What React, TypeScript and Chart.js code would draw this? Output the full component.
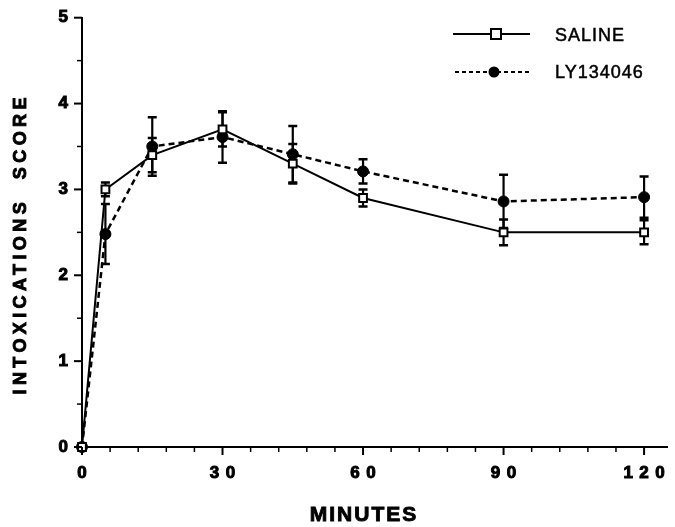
import { useEffect, useRef } from 'react';
import { Chart, registerables } from 'chart.js';

Chart.register(...registerables);

const minutes = [0, 5, 15, 30, 45, 60, 90, 120];
const salineMean = [0, 3.0, 3.4, 3.7, 3.3, 2.9, 2.5, 2.5];
const salineErr = [0, 0.08, 0.2, 0.2, 0.23, 0.1, 0.15, 0.14];
const lyMean = [0, 2.48, 3.5, 3.61, 3.41, 3.21, 2.86, 2.91];
const lyErr = [0, 0.35, 0.34, 0.3, 0.33, 0.14, 0.31, 0.24];
const xTickValues = [0, 30, 60, 90, 120];
const yTickValues = [0, 1, 2, 3, 4, 5];
const seriesNames = ['SALINE', 'LY134046'];
const xTitle = 'MINUTES';
const yTitle = 'INTOXICATIONS  SCORE';

const FONT = '"Liberation Sans", Arial, Helvetica, sans-serif';

const customPlugin = {
  id: 'custom',
  beforeDraw(chart: any) {
    chart.ctx.letterSpacing = '6.5px';
  },
  beforeDatasetsDraw(chart: any) {
    const ctx = chart.ctx;
    ctx.letterSpacing = '0px';
    const xs = chart.scales.x;
    const ys = chart.scales.y;
    ctx.save();
    ctx.strokeStyle = '#000';
    const groups: [number[], number[]][] = [
      [salineMean, salineErr],
      [lyMean, lyErr],
    ];
    groups.forEach(([m, e]) => {
      minutes.forEach((t, i) => {
        if (!e[i]) return;
        const px = xs.getPixelForValue(t);
        const top = ys.getPixelForValue(m[i] + e[i]);
        const bot = ys.getPixelForValue(m[i] - e[i]);
        ctx.lineWidth = 2.2;
        ctx.beginPath();
        ctx.moveTo(px, top);
        ctx.lineTo(px, bot);
        ctx.stroke();
        ctx.lineWidth = 2.5;
        ctx.beginPath();
        ctx.moveTo(px - 4.5, top);
        ctx.lineTo(px + 4.5, top);
        ctx.moveTo(px - 4.5, bot);
        ctx.lineTo(px + 4.5, bot);
        ctx.stroke();
      });
    });
    ctx.restore();
  },
  afterDraw(chart: any) {
    const ctx = chart.ctx;
    const xs = chart.scales.x;
    const ys = chart.scales.y;
    const area = chart.chartArea;
    ctx.save();
    ctx.letterSpacing = '0px';
    ctx.strokeStyle = '#000';
    ctx.fillStyle = '#000';
    // x ticks
    const y0 = area.bottom;
    for (let v = 0; v <= xs.max; v += 6) {
      const px = xs.getPixelForValue(v);
      const major = xTickValues.includes(v);
      ctx.lineWidth = major ? 2 : 1.5;
      ctx.beginPath();
      ctx.moveTo(px, y0);
      ctx.lineTo(px, y0 + (major ? 8 : 5));
      ctx.stroke();
    }
    // y ticks
    const x0 = area.left;
    for (let v = 0; v <= ys.max + 1e-9; v += 0.5) {
      const py = ys.getPixelForValue(v);
      const major = Math.abs(v - Math.round(v)) < 1e-9;
      ctx.lineWidth = major ? 2 : 1.5;
      ctx.beginPath();
      ctx.moveTo(x0, py);
      ctx.lineTo(x0 - (major ? 8 : 5), py);
      ctx.stroke();
    }
    // x title
    ctx.font = `bold 21px ${FONT}`;
    ctx.letterSpacing = '2px';
    ctx.textAlign = 'center';
    ctx.textBaseline = 'middle';
    ctx.lineWidth = 0.9;
    const cx = (xs.getPixelForValue(0) + xs.getPixelForValue(120)) / 2;
    ctx.strokeText(xTitle, cx + 1, 515);
    ctx.fillText(xTitle, cx + 1, 515);
    // y title
    ctx.save();
    ctx.font = `bold 18px ${FONT}`;
    ctx.letterSpacing = '4.4px';
    ctx.translate(21, 246);
    ctx.rotate(-Math.PI / 2);
    ctx.lineWidth = 0.9;
    ctx.strokeText(yTitle, 2.2, 0);
    ctx.fillText(yTitle, 2.2, 0);
    ctx.restore();
    // legend
    ctx.letterSpacing = '1px';
    ctx.font = `18px ${FONT}`;
    ctx.textAlign = 'left';
    ctx.textBaseline = 'middle';
    // saline
    ctx.lineWidth = 2;
    ctx.setLineDash([]);
    ctx.beginPath();
    ctx.moveTo(453, 34);
    ctx.lineTo(530, 34);
    ctx.stroke();
    ctx.fillStyle = '#fff';
    ctx.fillRect(491, 29, 10, 10);
    ctx.strokeRect(491, 29, 10, 10);
    ctx.fillStyle = '#000';
    ctx.lineWidth = 0.5;
    ctx.strokeText(seriesNames[0], 555, 36);
    ctx.fillText(seriesNames[0], 555, 36);
    // ly
    ctx.lineWidth = 2;
    ctx.setLineDash([4, 3]);
    ctx.beginPath();
    ctx.moveTo(455, 72);
    ctx.lineTo(530, 72);
    ctx.stroke();
    ctx.setLineDash([]);
    ctx.beginPath();
    ctx.arc(494, 72, 5.5, 0, Math.PI * 2);
    ctx.fill();
    ctx.lineWidth = 0.5;
    ctx.strokeText(seriesNames[1], 555, 73);
    ctx.fillText(seriesNames[1], 555, 73);
    ctx.restore();
  },
};

export default function App() {
  const ref = useRef<HTMLCanvasElement | null>(null);
  useEffect(() => {
    if (!ref.current) return;
    const chart = new Chart(ref.current, {
      type: 'line',
      data: {
        datasets: [
          {
            label: seriesNames[0],
            data: minutes.map((t, i) => ({ x: t, y: salineMean[i] })),
            borderColor: '#000',
            borderWidth: 2,
            pointStyle: 'rect',
            pointRadius: 5.5,
            pointBackgroundColor: '#fff',
            pointBorderColor: '#000',
            pointBorderWidth: 2,
            tension: 0,
            clip: false as any,
          },
          {
            label: seriesNames[1],
            data: minutes.map((t, i) => ({ x: t, y: lyMean[i] })),
            borderColor: '#000',
            borderWidth: 2.5,
            borderDash: [6, 4],
            pointStyle: 'circle',
            pointRadius: 5.5,
            pointBackgroundColor: '#000',
            pointBorderColor: '#000',
            pointBorderWidth: 1,
            tension: 0,
            clip: false as any,
          },
        ],
      },
      options: {
        responsive: false,
        animation: false,
        layout: { padding: { top: 15, right: 0, left: 0, bottom: 0 } },
        plugins: {
          legend: { display: false },
          tooltip: { enabled: false },
        },
        scales: {
          x: {
            type: 'linear',
            min: 0,
            max: 125,
            afterFit: (s: any) => {
              s.height = 80;
            },
            afterBuildTicks: (s: any) => {
              s.ticks = xTickValues.map((v) => ({ value: v }));
            },
            grid: { display: false, drawTicks: false },
            border: { display: true, color: '#000', width: 2 },
            ticks: {
              color: '#000',
              font: { family: FONT, size: 17, weight: 'bold' },
              textStrokeColor: '#000',
              textStrokeWidth: 1,
              padding: 16,
              labelOffset: 3.25,
              maxRotation: 0,
              autoSkip: false,
            },
          },
          y: {
            type: 'linear',
            min: 0,
            max: 5,
            afterFit: (s: any) => {
              s.width = 82;
            },
            afterBuildTicks: (s: any) => {
              s.ticks = yTickValues.map((v) => ({ value: v }));
            },
            grid: { display: false, drawTicks: false },
            border: { display: true, color: '#000', width: 2 },
            ticks: {
              color: '#000',
              font: { family: FONT, size: 17, weight: 'bold' },
              textStrokeColor: '#000',
              textStrokeWidth: 1,
              padding: 7.5,
            },
          },
        },
      },
      plugins: [customPlugin],
    });
    return () => chart.destroy();
  }, []);
  return (
    <div style={{ position: 'absolute', left: 0, top: 0, width: 675, height: 527, background: '#fff' }}>
      <canvas ref={ref} width={675} height={527} style={{ display: 'block' }} />
    </div>
  );
}
